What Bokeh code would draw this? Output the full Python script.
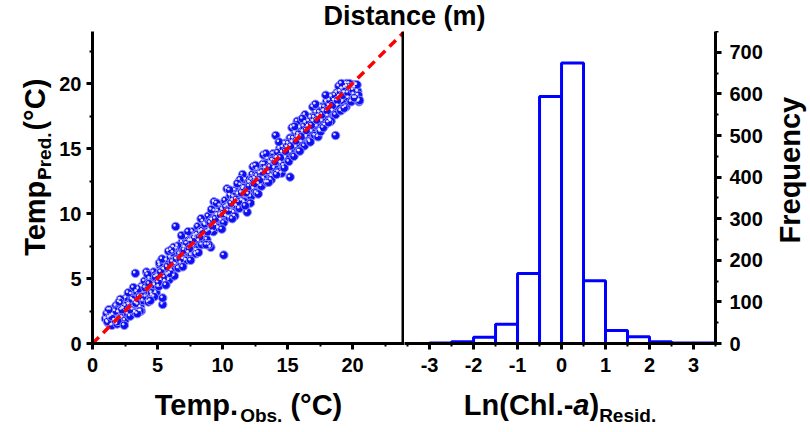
from bokeh.plotting import figure
from bokeh.models import Range1d, FixedTicker, Label, Span
from bokeh.layouts import column, row
from bokeh.embed import file_html
from bokeh.resources import INLINE
import math

# ---------------- data ----------------
obs = [1.0, 1.1, 1.2, 1.3, 1.4, 1.5, 1.6, 1.7, 1.8, 1.9, 2.0, 2.1, 2.2, 2.3, 2.4, 2.5, 2.6, 2.7, 2.8, 2.9,
       3.0, 3.1, 3.2, 3.3, 3.3, 3.4, 3.5, 3.6, 3.7, 3.8, 3.9, 4.0, 4.1, 4.2, 4.3, 4.4, 4.5, 4.6, 4.7, 4.8,
       4.9, 5.0, 5.1, 5.2, 5.3, 5.4, 5.4, 5.5, 5.6, 5.7, 5.8, 5.9, 6.0, 6.1, 6.2, 6.3, 6.4, 6.4, 6.5, 6.6,
       6.7, 6.8, 6.9, 7.0, 7.1, 7.2, 7.3, 7.4, 7.5, 7.6, 7.7, 7.8, 7.9, 8.0, 8.1, 8.2, 8.3, 8.4, 8.5, 8.6,
       8.7, 8.8, 8.9, 9.0, 9.1, 9.2, 9.3, 9.4, 9.5, 9.6, 9.7, 9.8, 9.9, 10.0, 10.1, 10.1, 10.2, 10.3, 10.4, 10.5,
       10.6, 10.7, 10.8, 10.9, 11.0, 11.1, 11.2, 11.3, 11.4, 11.5, 11.6, 11.7, 11.8, 11.9, 12.0, 12.1, 12.2, 12.3, 12.4, 12.5,
       12.6, 12.7, 12.8, 12.9, 13.0, 13.1, 13.2, 13.3, 13.4, 13.5, 13.6, 13.7, 13.8, 13.9, 14.0, 14.1, 14.2, 14.3, 14.4, 14.5,
       14.6, 14.7, 14.8, 14.9, 15.0, 15.1, 15.2, 15.2, 15.3, 15.4, 15.5, 15.6, 15.7, 15.8, 15.9, 16.0, 16.1, 16.2, 16.3, 16.4,
       16.5, 16.6, 16.7, 16.8, 16.9, 17.0, 17.1, 17.2, 17.3, 17.4, 17.5, 17.6, 17.7, 17.8, 17.9, 18.0, 18.1, 18.2, 18.3, 18.4,
       18.5, 18.6, 18.7, 18.7, 18.8, 18.9, 19.0, 19.1, 19.2, 19.3, 19.4, 19.5, 19.6, 19.7, 19.8, 19.9, 20.0, 20.1, 20.2, 20.3,
       20.5, 20.4,
       1.15, 1.45, 1.75, 1.95, 2.25, 2.55, 2.85, 3.05, 3.35, 3.55, 3.85, 4.05, 4.35, 4.55, 4.85, 5.05, 5.25, 5.55, 5.75, 5.95,
       6.15, 6.45, 6.55, 6.75, 7.05, 7.25, 7.45, 7.65, 7.85, 8.05, 8.25, 8.45, 8.65, 8.85, 9.05, 9.25, 9.45, 9.65, 9.85, 10.05,
       10.25, 10.45, 10.65, 10.85, 11.05, 11.25, 11.45, 11.65, 11.85, 12.05, 12.25, 12.45, 12.65, 12.85, 13.05, 13.25, 13.45, 13.65, 13.85, 14.05,
       14.25, 14.45, 14.65, 14.85, 15.05, 15.25, 15.45, 15.65, 15.85, 16.05, 16.25, 16.45, 16.65, 16.85, 17.05, 17.25, 17.45, 17.65, 17.85, 18.05,
       18.25, 18.45, 18.65, 18.85, 19.05, 19.25, 19.45, 19.65, 19.85, 20.05, 20.25, 20.45, 20.55,
       2.15, 4.15, 6.85, 9.35, 12.15, 13.15, 15.75, 17.35, 19.55, 8.95, 11.55, 14.55, 16.95, 5.85, 3.75, 10.35,
       1.25, 2.05, 2.45, 3.15, 3.65, 4.25, 4.75, 5.15, 5.65, 6.25, 6.95, 7.35, 7.95, 8.35, 8.75, 9.55, 9.95, 10.55, 10.95, 11.35,
       11.75, 12.35, 12.75, 13.35, 13.75, 14.35, 14.75, 15.35, 15.95, 16.35, 16.75, 17.15, 17.55, 17.95, 18.35, 18.95, 19.35, 19.75,
       20.15, 20.35,
       2.75, 4.45, 6.05, 7.55, 9.15, 10.75, 12.55, 14.15, 15.55, 17.75, 19.15, 3.45, 5.35, 8.15, 11.15, 13.55, 16.15, 18.15]
pred = [1.9, 2.3, 1.6, 2.0, 2.6, 1.4, 2.2, 1.8, 2.9, 1.5, 2.4, 1.9, 3.1, 2.0, 2.7, 1.8, 3.5, 2.3, 3.0, 2.1,
        3.8, 2.6, 3.3, 5.4, 2.4, 4.0, 3.0, 3.6, 2.8, 4.4, 3.3, 4.8, 3.6, 4.1, 3.2, 5.0, 4.3, 3.7, 5.5, 4.5,
        3.9, 5.2, 4.4, 6.0, 4.9, 3.0, 3.5, 5.7, 4.8, 6.4, 5.3, 4.9, 6.6, 5.6, 7.0, 5.2, 9.0, 6.1, 7.3, 5.8,
        6.9, 6.2, 7.8, 6.5, 7.4, 6.4, 8.2, 7.0, 7.9, 6.8, 8.6, 7.5, 8.3, 7.2, 9.0, 7.9, 8.6, 7.6, 9.4, 8.3,
        9.1, 8.0, 9.8, 8.7, 7.4, 9.5, 8.6, 10.2, 9.1, 9.9, 8.9, 10.6, 9.5, 10.3, 6.8, 9.3, 11.0, 9.8, 10.6, 9.7,
        11.4, 10.2, 11.0, 10.1, 11.8, 10.6, 11.5, 10.4, 12.2, 11.0, 11.9, 10.9, 12.6, 10.1, 11.5, 12.4, 11.3, 13.0, 11.9, 12.7,
        11.6, 13.4, 12.3, 13.1, 12.1, 13.8, 12.7, 13.5, 12.4, 14.2, 13.1, 13.9, 12.9, 14.6, 13.5, 16.0, 14.3, 13.2, 15.0, 13.9,
        14.7, 13.7, 15.4, 14.3, 15.1, 14.0, 12.8, 15.8, 14.7, 15.5, 14.4, 16.2, 15.1, 15.9, 14.8, 16.6, 15.5, 16.3, 15.2, 17.0,
        15.9, 16.7, 15.6, 17.4, 16.3, 17.1, 16.0, 17.8, 16.7, 17.5, 16.4, 18.2, 17.1, 17.9, 16.8, 18.6, 17.5, 18.3, 17.2, 19.0,
        17.9, 18.7, 16.0, 17.6, 19.3, 18.3, 19.0, 17.9, 19.6, 18.6, 19.3, 18.2, 19.8, 18.9, 19.5, 18.6, 19.9, 19.2, 19.7, 18.9,
        18.6, 19.4,
        1.7, 2.1, 2.5, 1.7, 2.6, 2.9, 2.6, 3.4, 3.1, 4.2, 3.6, 4.3, 4.6, 3.9, 5.1, 4.7, 5.5, 5.1, 5.9, 5.4,
        6.3, 6.5, 7.5, 6.5, 7.2, 7.7, 7.3, 7.9, 8.1, 8.4, 8.2, 8.7, 9.2, 8.6, 9.3, 9.0, 9.6, 10.2, 9.9, 10.0,
        10.5, 10.2, 10.8, 11.3, 11.1, 10.9, 11.6, 12.0, 11.6, 12.1, 12.6, 12.3, 12.9, 12.6, 13.2, 13.8, 13.3, 13.6, 14.1, 14.0,
        14.7, 14.3, 15.1, 14.8, 15.4, 15.2, 15.8, 15.6, 16.1, 15.9, 16.7, 16.4, 17.1, 16.8, 17.4, 17.2, 17.8, 17.6, 18.2, 17.9,
        18.7, 18.3, 19.1, 18.7, 19.4, 19.1, 19.7, 19.3, 19.8, 19.5, 19.9, 19.1, 18.7,
        3.4, 5.5, 8.3, 10.9, 10.8, 14.5, 17.1, 15.9, 20.0, 7.6, 13.0, 13.1, 18.2, 7.1, 2.5, 11.9,
        2.6, 3.2, 1.4, 4.3, 2.5, 5.3, 3.6, 6.2, 4.5, 7.4, 5.9, 8.6, 6.9, 9.6, 7.6, 10.8, 8.8, 11.8, 9.8, 12.6,
        10.6, 13.6, 11.5, 14.6, 12.6, 15.5, 13.5, 16.6, 14.8, 17.6, 15.5, 18.4, 16.3, 19.1, 17.1, 19.8, 18.1, 20.0,
        18.9, 19.9,
        3.9, 3.3, 7.2, 6.4, 10.3, 9.6, 13.7, 13.0, 16.7, 16.6, 20.0, 2.3, 6.5, 7.0, 12.3, 12.4, 17.3, 17.0]
ref_line = [0, 24]

bin_left = [-3.0, -2.5, -2.0, -1.5, -1.0, -0.5, 0.0, 0.5, 1.0, 1.5, 2.0, 2.5, 3.0]
bin_right = [-2.5, -2.0, -1.5, -1.0, -0.5, 0.0, 0.5, 1.0, 1.5, 2.0, 2.5, 3.0, 3.5]
freq = [1, 4, 15, 46, 168, 594, 674, 151, 31, 16, 4, 1, 1]

temp_ticks = [0, 5, 10, 15, 20]
temp_minor = [2.5, 7.5, 12.5, 17.5, 22.5]
resid_ticks = [-3, -2, -1, 0, 1, 2, 3]
resid_tick_labels = ["-3", "-2", "-1", "0", "1", "2", "3"]
resid_minor = [-3.5, -2.5, -1.5, -0.5, 0.5, 1.5, 2.5, 3.5]
freq_ticks = [0, 100, 200, 300, 400, 500, 600, 700]
freq_minor = [50, 150, 250, 350, 450, 550, 650, 750]

title_text = "Distance (m)"
freq_label = "Frequency"

# ---------------- style ----------------
FONT = "Liberation Sans"
M = 29   # main label size
S = 19   # subscript size
T = 27   # title size
BLUE = "#0000ff"
BASE_SHIFT = 0.345   # renderer places 'alphabetic' baseline this many em lower

W = {' ': 278, '(': 333, ')': 333, '.': 278, '-': 333, '°': 400, 'C': 722, 'D': 722, 'F': 611,
     'L': 611, 'O': 778, 'P': 667, 'R': 722, 'T': 611, 'a': 556, 'b': 611, 'c': 556, 'd': 611,
     'e': 556, 'h': 611, 'i': 278, 'l': 278, 'm': 889, 'n': 611, 'p': 611, 'q': 611, 'r': 389,
     's': 556, 't': 333, 'u': 611, 'y': 556}


def tw(s, size):
    return sum(W.get(c, 556) for c in s) / 1000.0 * size


# page geometry (pixels)
PW, PH = 810, 432
F_TOP, F_BOT = 31, 343          # plot frames
B_TOP = 382                     # bottom label strip
L_STRIP = 56                    # left label strip width
R_STRIP = 770                   # right label strip start
L_LEFT, MID, R_RIGHT = 92, 404, 715
X1 = (0.0, 24.0)
X2 = (-3.57, 3.5)
Y2 = (0.0, 750.0)


def style_axis(ax, ticks, minor, standoff=5):
    ax.ticker = FixedTicker(ticks=ticks, minor_ticks=minor)
    ax.axis_line_width = 3
    ax.axis_line_color = "black"
    ax.major_tick_line_width = 3
    ax.major_tick_line_color = "black"
    ax.major_tick_out = 6
    ax.major_tick_in = 0
    ax.minor_tick_line_width = 2
    ax.minor_tick_line_color = "black"
    ax.minor_tick_out = 3
    ax.minor_tick_in = 0
    ax.major_label_text_font = FONT
    ax.major_label_text_font_style = "bold"
    ax.major_label_text_font_size = "20px"
    ax.major_label_text_color = "black"
    ax.major_label_standoff = standoff


def lab(fig, x, y, text, size, angle=0.0, align="left", style="bold"):
    # (x, y) is the wanted baseline start in page pixels
    if angle:
        x = x - BASE_SHIFT * size
    else:
        y = y - BASE_SHIFT * size
    fig.add_layout(Label(x=x, y=y, text=text, text_font=FONT, text_font_size=f"{size}px",
                         text_font_style=style, text_color="black", text_align=align,
                         text_baseline="alphabetic", angle=angle))


def base_fig(**kw):
    f = figure(output_backend="svg", toolbar_location=None, **kw)
    f.outline_line_color = None
    f.background_fill_color = "white"
    f.border_fill_color = "white"
    f.grid.visible = False
    return f


def strip(x0, x1, y0, y1):
    # a text strip whose data coordinates equal page pixels
    return base_fig(width=x1 - x0, height=y1 - y0, x_range=Range1d(x0, x1), y_range=Range1d(y1, y0),
                    x_axis_location=None, y_axis_location=None, min_border=0,
                    min_border_left=0, min_border_right=0, min_border_top=0, min_border_bottom=0)


# ---------------- title strip ----------------
ft = strip(0, PW, 0, F_TOP)
lab(ft, 404, 25, title_text, T, align="center")

# ---------------- left: scatter ----------------
f1 = base_fig(width=MID - L_STRIP, height=B_TOP - F_TOP, x_range=Range1d(*X1), y_range=Range1d(0, 24),
              min_border_left=L_LEFT - L_STRIP, min_border_right=0, min_border_top=0,
              min_border_bottom=B_TOP - F_BOT)
style_axis(f1.xaxis[0], temp_ticks, temp_minor, standoff=8)
style_axis(f1.yaxis[0], temp_ticks, temp_minor, standoff=5)
f1.scatter(obs, pred, size=8.5, fill_color="#0f0ff2", line_color="#8f8fff", line_width=1)
hx = [v - 0.09 for v in obs]
hy = [v + 0.09 for v in pred]
f1.scatter(hx, hy, size=2.6, fill_color="white", line_color=None, fill_alpha=0.85)
f1.line(ref_line, ref_line, line_color="red", line_width=3.5, line_dash="9 6")
f1.add_layout(Span(location=X1[1] - 1.5 * (X1[1] - X1[0]) / (MID - L_LEFT), dimension="height",
                   line_color="black", line_width=3))

# ---------------- right: histogram ----------------
f2 = base_fig(width=R_STRIP - MID, height=B_TOP - F_TOP, x_range=Range1d(*X2), y_range=Range1d(*Y2),
              y_axis_location="right",
              min_border_left=0, min_border_right=R_STRIP - R_RIGHT, min_border_top=0,
              min_border_bottom=B_TOP - F_BOT)
style_axis(f2.xaxis[0], resid_ticks, resid_minor, standoff=8)
f2.xaxis[0].major_label_overrides = dict(zip(resid_ticks, resid_tick_labels))
style_axis(f2.yaxis[0], freq_ticks, freq_minor, standoff=8)
f2.quad(left=bin_left, right=bin_right, top=freq, bottom=0, fill_color="white",
        line_color=BLUE, line_width=3)

# ---------------- left label strip ----------------
fl = strip(0, L_STRIP, F_TOP, B_TOP)
parts = [("Temp.", M, 0, 0), ("Pred.", S, 6, 0), ("(°C)", M, 0, tw(" ", M))]
total = sum(tw(t, s) + gap for t, s, _, gap in parts)
cy = (F_TOP + F_BOT) / 2 + total / 2
for t, s, dx, gap in parts:
    cy -= gap
    lab(fl, 45 + dx, cy, t, s, angle=math.pi / 2)
    cy -= tw(t, s)

# ---------------- right label strip ----------------
fr = strip(R_STRIP, PW, F_TOP, B_TOP)
lab(fr, 800, (F_TOP + F_BOT) / 2, freq_label, M, angle=math.pi / 2, align="center")

# ---------------- bottom label strip ----------------
fb = strip(0, PW, B_TOP, PH)
parts = [("Temp.", M, 0, "bold", 0), ("Obs.", S, 7, "bold", 0), ("(°C)", M, 0, "bold", tw(" ", M))]
total = sum(tw(t, s) + gap for t, s, _, _, gap in parts)
cx = (L_LEFT + MID) / 2 - total / 2
for t, s, dy, st, gap in parts:
    cx += gap
    lab(fb, cx, 415 + dy, t, s, style=st)
    cx += tw(t, s)

parts = [("Ln(Chl.-", M, 0, "bold", 0), ("a", M, 0, "bold italic", 0), (")", M, 0, "bold", 0),
         ("Resid.", S, 7, "bold", 0)]
total = sum(tw(t, s) + gap for t, s, _, _, gap in parts)
cx = (MID + R_RIGHT) / 2 - total / 2
for t, s, dy, st, gap in parts:
    cx += gap
    lab(fb, cx, 415 + dy, t, s, style=st)
    cx += tw(t, s)

layout = column(ft, row(fl, f1, f2, fr), fb)
open("out.html", "w").write(file_html(layout, INLINE))
